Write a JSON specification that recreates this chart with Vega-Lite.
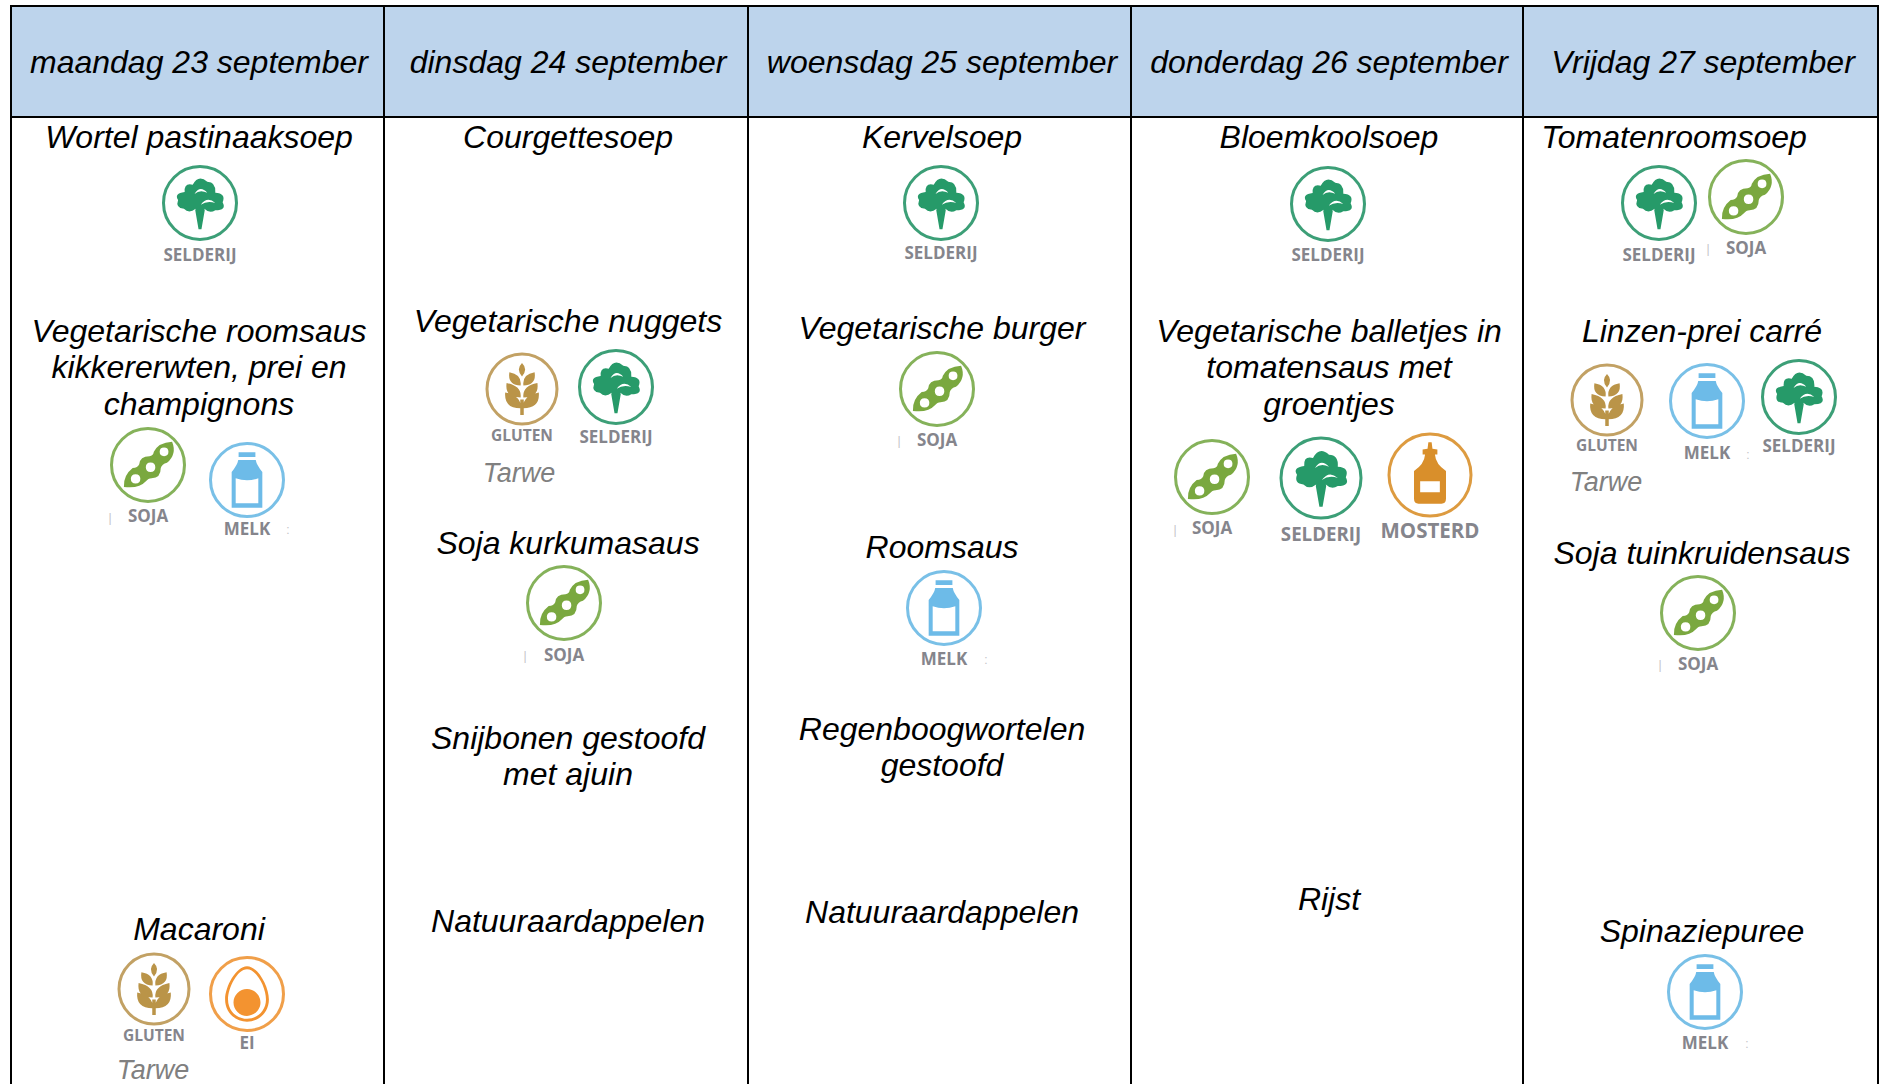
{"$schema":"https://vega.github.io/schema/vega-lite/v6.json","width":1879,"height":1084,"padding":0,"autosize":{"type":"fit","contains":"padding"},"background":"#ffffff","view":{"stroke":null},"config":{"style":{"cell":{"stroke":null}}},"datasets":{"kolommen":[{"dag":"maandag 23 september","links":11,"rechts":384,"midden":199},{"dag":"dinsdag 24 september","links":384,"rechts":748,"midden":568},{"dag":"woensdag 25 september","links":748,"rechts":1131,"midden":942},{"dag":"donderdag 26 september","links":1131,"rechts":1523,"midden":1329},{"dag":"Vrijdag 27 september","links":1523,"rechts":1878,"midden":1703}],"lijnen":[{"pos":11},{"pos":384},{"pos":748},{"pos":1131},{"pos":1523},{"pos":1878}],"teksten":[{"tekst":"Wortel pastinaaksoep","soort":"gerecht","x":199,"y":138},{"tekst":"Vegetarische roomsaus","soort":"gerecht","x":199,"y":332},{"tekst":"kikkererwten, prei en","soort":"gerecht","x":199,"y":368},{"tekst":"champignons","soort":"gerecht","x":199,"y":405},{"tekst":"Macaroni","soort":"gerecht","x":199,"y":930},{"tekst":"Tarwe","soort":"detail","x":153,"y":1071},{"tekst":"Courgettesoep","soort":"gerecht","x":568,"y":138},{"tekst":"Vegetarische nuggets","soort":"gerecht","x":568,"y":322},{"tekst":"Tarwe","soort":"detail","x":519,"y":474},{"tekst":"Soja kurkumasaus","soort":"gerecht","x":568,"y":544},{"tekst":"Snijbonen gestoofd","soort":"gerecht","x":568,"y":739},{"tekst":"met ajuin","soort":"gerecht","x":568,"y":775},{"tekst":"Natuuraardappelen","soort":"gerecht","x":568,"y":922},{"tekst":"Kervelsoep","soort":"gerecht","x":942,"y":138},{"tekst":"Vegetarische burger","soort":"gerecht","x":942,"y":329},{"tekst":"Roomsaus","soort":"gerecht","x":942,"y":548},{"tekst":"Regenboogwortelen","soort":"gerecht","x":942,"y":730},{"tekst":"gestoofd","soort":"gerecht","x":942,"y":766},{"tekst":"Natuuraardappelen","soort":"gerecht","x":942,"y":913},{"tekst":"Bloemkoolsoep","soort":"gerecht","x":1329,"y":138},{"tekst":"Vegetarische balletjes in","soort":"gerecht","x":1329,"y":332},{"tekst":"tomatensaus met","soort":"gerecht","x":1329,"y":368},{"tekst":"groentjes","soort":"gerecht","x":1329,"y":405},{"tekst":"Rijst","soort":"gerecht","x":1329,"y":900},{"tekst":"Tomatenroomsoep","soort":"gerecht","x":1674,"y":138},{"tekst":"Linzen-prei carré","soort":"gerecht","x":1702,"y":332},{"tekst":"Tarwe","soort":"detail","x":1606,"y":483},{"tekst":"Soja tuinkruidensaus","soort":"gerecht","x":1702,"y":554},{"tekst":"Spinaziepuree","soort":"gerecht","x":1702,"y":932},{"tekst":"|","soort":"rest","x":110,"y":518},{"tekst":"|","soort":"rest","x":525,"y":656},{"tekst":"|","soort":"rest","x":899,"y":441},{"tekst":"|","soort":"rest","x":1175,"y":530},{"tekst":"|","soort":"rest","x":1708,"y":249},{"tekst":"|","soort":"rest","x":1660,"y":665},{"tekst":":","soort":"rest","x":288,"y":530},{"tekst":":","soort":"rest","x":986,"y":660},{"tekst":":","soort":"rest","x":1748,"y":455},{"tekst":":","soort":"rest","x":1747,"y":1044}],"iconen":[{"allergeen":"SELDERIJ","x":200,"y":203,"ly":256,"formaat":"normaal"},{"allergeen":"SOJA","x":148,"y":465,"ly":517,"formaat":"normaal"},{"allergeen":"MELK","x":247,"y":480,"ly":530,"formaat":"normaal"},{"allergeen":"GLUTEN","x":154,"y":989,"ly":1036,"formaat":"klein"},{"allergeen":"EI","x":247,"y":994,"ly":1044,"formaat":"normaal"},{"allergeen":"GLUTEN","x":522,"y":389,"ly":436,"formaat":"klein"},{"allergeen":"SELDERIJ","x":616,"y":387,"ly":438,"formaat":"normaal"},{"allergeen":"SOJA","x":564,"y":603,"ly":656,"formaat":"normaal"},{"allergeen":"SELDERIJ","x":941,"y":203,"ly":254,"formaat":"normaal"},{"allergeen":"SOJA","x":937,"y":389,"ly":441,"formaat":"normaal"},{"allergeen":"MELK","x":944,"y":608,"ly":660,"formaat":"normaal"},{"allergeen":"SELDERIJ","x":1328,"y":204,"ly":256,"formaat":"normaal"},{"allergeen":"SOJA","x":1212,"y":477,"ly":529,"formaat":"normaal"},{"allergeen":"SELDERIJ","x":1321,"y":478,"ly":535,"formaat":"groot"},{"allergeen":"MOSTERD","x":1430,"y":475,"ly":532,"formaat":"extra"},{"allergeen":"SELDERIJ","x":1659,"y":203,"ly":256,"formaat":"normaal"},{"allergeen":"SOJA","x":1746,"y":197,"ly":249,"formaat":"normaal"},{"allergeen":"GLUTEN","x":1607,"y":400,"ly":446,"formaat":"klein"},{"allergeen":"MELK","x":1707,"y":401,"ly":454,"formaat":"normaal"},{"allergeen":"SELDERIJ","x":1799,"y":397,"ly":447,"formaat":"normaal"},{"allergeen":"SOJA","x":1698,"y":613,"ly":665,"formaat":"normaal"},{"allergeen":"MELK","x":1705,"y":992,"ly":1044,"formaat":"normaal"}]},"layer":[{"data":{"name":"kolommen"},"mark":{"type":"rect","fill":"#bdd4ec","stroke":"#000000","strokeWidth":2},"encoding":{"x":{"field":"links","type":"quantitative","scale":{"domain":[0,1879],"nice":false,"zero":false},"axis":null},"x2":{"field":"rechts"},"y":{"datum":6,"type":"quantitative","scale":{"domain":[0,1084],"range":[0,1084],"nice":false,"zero":false},"axis":null},"y2":{"datum":117}}},{"data":{"name":"lijnen"},"mark":{"type":"rule","stroke":"#000000","strokeWidth":2},"encoding":{"x":{"field":"pos","type":"quantitative","axis":null},"y":{"datum":117,"type":"quantitative","axis":null},"y2":{"datum":1084}}},{"data":{"name":"kolommen"},"mark":{"type":"text","font":"Liberation Sans","fontStyle":"italic","fontSize":32,"color":"#000000","align":"center","baseline":"middle"},"encoding":{"x":{"field":"midden","type":"quantitative","axis":null},"y":{"datum":63,"type":"quantitative","axis":null},"text":{"field":"dag"}}},{"data":{"name":"teksten"},"transform":[{"filter":"datum.soort === 'gerecht'"}],"mark":{"type":"text","font":"Liberation Sans","fontStyle":"italic","fontSize":32,"color":"#000000","align":"center","baseline":"middle"},"encoding":{"x":{"field":"x","type":"quantitative","axis":null},"y":{"field":"y","type":"quantitative","axis":null},"text":{"field":"tekst"}}},{"data":{"name":"teksten"},"transform":[{"filter":"datum.soort === 'detail'"}],"mark":{"type":"text","font":"Liberation Sans","fontStyle":"italic","fontSize":27,"color":"#808080","align":"center","baseline":"middle"},"encoding":{"x":{"field":"x","type":"quantitative","axis":null},"y":{"field":"y","type":"quantitative","axis":null},"text":{"field":"tekst"}}},{"data":{"name":"teksten"},"transform":[{"filter":"datum.soort === 'rest'"}],"mark":{"type":"text","font":"Liberation Sans","fontSize":12,"color":"#c4c4c8","align":"center","baseline":"middle"},"encoding":{"x":{"field":"x","type":"quantitative","axis":null},"y":{"field":"y","type":"quantitative","axis":null},"text":{"field":"tekst"}}},{"data":{"name":"iconen"},"mark":{"type":"point","shape":"circle","filled":false,"strokeWidth":3,"opacity":0.95},"encoding":{"x":{"field":"x","type":"quantitative","axis":null},"y":{"field":"y","type":"quantitative","axis":null},"color":{"field":"allergeen","type":"nominal","legend":null,"scale":{"domain":["SELDERIJ","SOJA","MELK","GLUTEN","EI","MOSTERD"],"range":["#329a70","#7fae52","#72bde6","#bf9d5c","#f09a40","#dc9636"]}},"size":{"field":"formaat","type":"ordinal","legend":null,"scale":{"type":"ordinal","domain":["klein","normaal","groot","extra"],"range":[4900,5329,6400,6724]}}}},{"data":{"name":"iconen"},"mark":{"type":"point","filled":true,"strokeWidth":0,"opacity":1},"encoding":{"x":{"field":"x","type":"quantitative","axis":null},"y":{"field":"y","type":"quantitative","axis":null},"color":{"field":"allergeen","type":"nominal","legend":null,"scale":{"domain":["SELDERIJ","SOJA","MELK","GLUTEN","EI","MOSTERD"],"range":["#269a69","#7aa83f","#6dbbe8","#ba9448","#f39330","#d98f2b"]}},"size":{"field":"formaat","type":"ordinal","legend":null,"scale":{"type":"ordinal","domain":["klein","normaal","groot","extra"],"range":[4900,5329,6400,6724]}},"shape":{"field":"allergeen","type":"nominal","legend":null,"scale":{"domain":["SELDERIJ","SOJA","MELK","GLUTEN","EI","MOSTERD"],"range":["M-0.12,0.16 Q-0.3,0.3 -0.44,0.16 Q-0.68,0.14 -0.6,-0.08 Q-0.72,-0.26 -0.42,-0.3 Q-0.44,-0.56 -0.2,-0.5 Q-0.04,-0.8 0.2,-0.58 Q0.44,-0.58 0.42,-0.28 Q0.72,-0.26 0.62,-0.02 Q0.74,0.2 0.42,0.2 Q0.26,0.3 0.12,0.16 L0.13,0.2 L0.04,0.72 L-0.04,0.72 L-0.13,0.2 Z M0.2,-0.28 Q0,-0.5 -0.15,-0.25 Q0,-0.38 0.2,-0.28 Z M0.42,0 Q0.2,-0.2 0.02,0.05 Q0.2,-0.08 0.42,0 Z","M0.66,-0.64 Q0.8,-0.3 0.52,-0.06 Q0.38,-0.02 0.35,0.08 Q0.35,0.36 0.1,0.36 Q0,0.36 -0.05,0.44 Q-0.25,0.66 -0.66,0.6 Q-0.68,0.28 -0.42,0.08 Q-0.28,0.08 -0.24,-0.02 Q-0.22,-0.24 0.04,-0.24 Q0.14,-0.24 0.16,-0.36 Q0.28,-0.62 0.66,-0.64 Z M0.56,-0.36 Q0.56,-0.48 0.44,-0.48 Q0.32,-0.48 0.32,-0.36 Q0.32,-0.24 0.44,-0.24 Q0.56,-0.24 0.56,-0.36 Z M0.2,0.06 Q0.2,-0.07 0.07,-0.07 Q-0.06,-0.07 -0.06,0.06 Q-0.06,0.19 0.07,0.19 Q0.2,0.19 0.2,0.06 Z M-0.21,0.38 Q-0.21,0.25 -0.34,0.25 Q-0.47,0.25 -0.47,0.38 Q-0.47,0.51 -0.34,0.51 Q-0.21,0.51 -0.21,0.38 Z","M-0.23,-0.76 L0.23,-0.76 L0.23,-0.63 L-0.23,-0.63 Z M-0.24,-0.55 L0.24,-0.55 Q0.26,-0.42 0.42,-0.22 L0.42,0.76 L-0.42,0.76 L-0.42,-0.22 Q-0.26,-0.42 -0.24,-0.55 Z M-0.31,-0.05 L-0.31,0.64 L0.31,0.64 L0.31,-0.05 Q0,0.06 -0.31,-0.05 Z","M0,-0.74 Q0.18,-0.56 0,-0.36 Q-0.18,-0.56 0,-0.74 Z M-0.04,-0.1 Q-0.42,-0.12 -0.36,-0.48 Q0,-0.42 -0.04,-0.1 Z M0.36,-0.48 Q0.42,-0.12 0.04,-0.1 Q0,-0.42 0.36,-0.48 Z M-0.04,0.24 Q-0.5,0.24 -0.44,-0.17 Q0,-0.08 -0.04,0.24 Z M0.44,-0.17 Q0.5,0.24 0.04,0.24 Q0,-0.08 0.44,-0.17 Z M-0.04,0.55 Q-0.52,0.55 -0.48,0.1 Q0,0.2 -0.04,0.55 Z M0.48,0.1 Q0.52,0.55 0.04,0.55 Q0,0.2 0.48,0.1 Z M-0.05,0.3 L0.05,0.3 L0.05,0.74 L-0.05,0.74 Z","M0,-0.76 C0.3,-0.76 0.6,-0.2 0.6,0.15 C0.6,0.52 0.3,0.76 0,0.76 C-0.3,0.76 -0.6,0.52 -0.6,0.15 C-0.6,-0.2 -0.3,-0.76 0,-0.76 Z M0,-0.68 C-0.26,-0.68 -0.52,-0.18 -0.52,0.15 C-0.52,0.47 -0.27,0.68 0,0.68 C0.27,0.68 0.52,0.47 0.52,0.15 C0.52,-0.18 0.26,-0.68 0,-0.68 Z M0,-0.14 C0.2,-0.14 0.37,0.03 0.37,0.23 C0.37,0.43 0.2,0.6 0,0.6 C-0.2,0.6 -0.37,0.43 -0.37,0.23 C-0.37,0.03 -0.2,-0.14 0,-0.14 Z","M-0.04,-0.8 L0.04,-0.8 L0.06,-0.64 L0.18,-0.62 L0.18,-0.5 L0.12,-0.5 Q0.14,-0.26 0.39,-0.1 L0.39,0.58 Q0.39,0.7 0.28,0.7 L-0.28,0.7 Q-0.39,0.7 -0.39,0.58 L-0.39,-0.1 Q-0.14,-0.26 -0.12,-0.5 L-0.18,-0.5 L-0.18,-0.62 L-0.06,-0.64 Z M-0.24,0.15 L-0.24,0.42 L0.24,0.42 L0.24,0.15 Z"]}}}},{"data":{"name":"iconen"},"mark":{"type":"text","font":"Open Sans","fontWeight":700,"color":"#85858c","align":"center","baseline":"middle"},"encoding":{"x":{"field":"x","type":"quantitative","axis":null},"y":{"field":"ly","type":"quantitative","axis":null},"text":{"field":"allergeen"},"size":{"field":"formaat","type":"ordinal","legend":null,"scale":{"type":"ordinal","domain":["klein","normaal","groot","extra"],"range":[15.5,17,18.7,20.5]}}}}],"resolve":{"scale":{"size":"independent","color":"independent"}}}
